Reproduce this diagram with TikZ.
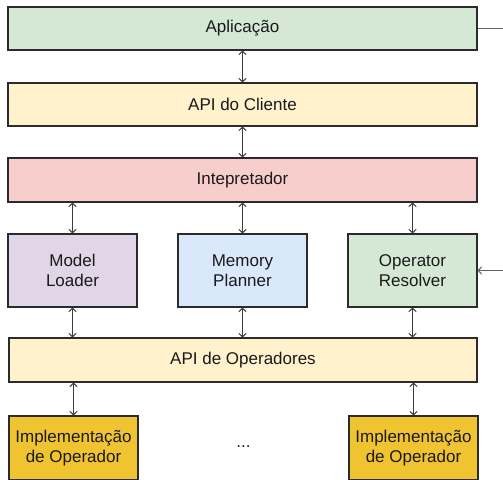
\documentclass[tikz,border=0pt]{standalone}
\usepackage{fontspec}
\setmainfont{Liberation Sans}
\usetikzlibrary{arrows.meta}
\definecolor{cgreen}{HTML}{D5E8D4}
\definecolor{cyellow}{HTML}{FFF2CC}
\definecolor{cred}{HTML}{F8CECC}
\definecolor{cpurple}{HTML}{E1D5E7}
\definecolor{cblue}{HTML}{DAE8FC}
\definecolor{cgold}{HTML}{F0C330}
\definecolor{cedge}{HTML}{2B2B2B}
\definecolor{cline}{HTML}{3C3C3C}
\definecolor{ctext}{HTML}{1A1A1A}
\tikzset{
  box/.style={draw=cedge, line width=1.1pt, rectangle, inner sep=0pt,
    align=center, text=ctext,
    font=\fontsize{17}{19.5}\selectfont},
  wide/.style={box, minimum width=469pt, minimum height=43pt},
  unit/.style={box, minimum width=129pt, minimum height=73pt},
  impl/.style={box, minimum width=129pt, minimum height=64pt},
  link/.style={draw=cline, line width=1pt,
    {Straight Barb[length=3.5pt,width=7.5pt]}-{Straight Barb[length=3.5pt,width=7.5pt]}},
  feed/.style={draw=cline!80!white, line width=1pt}
}
\begin{document}
\begin{tikzpicture}[x=1pt,y=-1pt]
  \useasboundingbox (0,0) rectangle (503,479);
  \clip (0,0) rectangle (503,479);

  % stacked layers
  \node[wide, fill=cgreen]  (app)    at (242.5,28.5)  {Aplicação};
  \node[wide, fill=cyellow] (client) at (242.5,104.5) {API do Cliente};
  \node[wide, fill=cred, minimum height=44pt] (interp) at (242.5,180) {Intepretador};

  % interpreter components
  \node[unit, fill=cpurple] (loader)   at (72.5,270.5)  {Model\\Loader};
  \node[unit, fill=cblue]   (planner)  at (242.5,270.5) {Memory\\Planner};
  \node[unit, fill=cgreen]  (resolver) at (412.5,270.5) {Operator\\Resolver};

  \node[wide, fill=cyellow, minimum width=468pt, minimum height=44pt] (opapi) at (243,360) {API de Operadores};

  % operator implementations
  \node[impl, fill=cgold] (impl1) at (73.5,448)  {Implementação\\de Operador};
  \node[impl, fill=cgold] (impl2) at (413.5,448) {Implementação\\de Operador};
  \node[text=ctext, font=\fontsize{17}{19.5}\selectfont] (dots) at (243.5,447) {...};

  % vertical links
  \draw[link] (app.south) -- (client.north);
  \draw[link] (client.south) -- (interp.north);
  \draw[link] (loader.north) -- (loader.north |- interp.south);
  \draw[link] (planner.north) -- (planner.north |- interp.south);
  \draw[link] (resolver.north) -- (resolver.north |- interp.south);
  \draw[link] (loader.south) -- (loader.south |- opapi.north);
  \draw[link] (planner.south) -- (planner.south |- opapi.north);
  \draw[link] (resolver.south) -- (resolver.south |- opapi.north);
  \draw[link] (impl1.north) -- (impl1.north |- opapi.south);
  \draw[link] (impl2.north) -- (impl2.north |- opapi.south);

  % external connections on the right
  \coordinate (appout) at (503,28.5);
  \coordinate (resin) at (503,270.5);
  \draw[feed] (app.east) -- (appout);
  \draw[feed, -{Straight Barb[length=3.5pt,width=7.5pt]}] (resin) -- (resolver.east);
\end{tikzpicture}
\end{document}
